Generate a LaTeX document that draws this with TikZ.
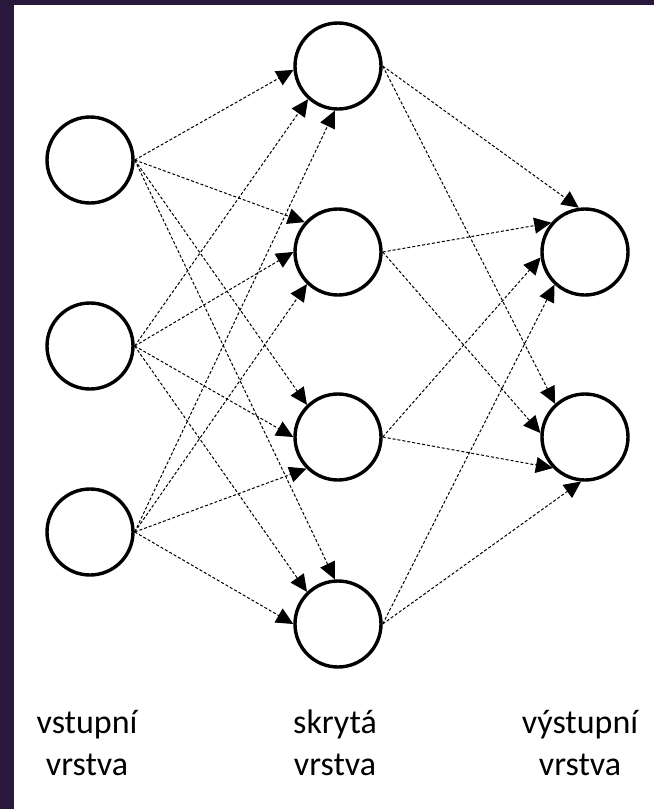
\documentclass[tikz,border=0pt]{standalone}
\usepackage{fontspec}
\setmainfont{Carlito}
\usetikzlibrary{arrows.meta}
\definecolor{framecol}{RGB}{42,24,60}
\begin{document}
\begin{tikzpicture}[x=1pt,y=-1pt,
  neuron/.style={circle,draw=black,line width=3.4pt,minimum size=86pt,inner sep=0pt,fill=white},
  conn/.style={line width=1pt,dash pattern=on 3pt off 2pt,-{Triangle[length=17pt,width=16pt]}},
  lbl/.style={font=\fontsize{34}{42}\selectfont,anchor=base,inner sep=0pt}]
\useasboundingbox (0,0) rectangle (654,809);
\fill[white] (0,0) rectangle (654,809);
\fill[framecol] (0,0) rectangle (14,809);
\fill[framecol] (0,0) rectangle (654,5);
% input layer
\node[neuron] (i1) at (90,160) {};
\node[neuron] (i2) at (90,346) {};
\node[neuron] (i3) at (90,532) {};
% hidden layer
\node[neuron] (h1) at (338,66) {};
\node[neuron] (h2) at (338,252) {};
\node[neuron] (h3) at (338,437) {};
\node[neuron] (h4) at (338,624) {};
% output layer
\node[neuron] (o1) at (585,252) {};
\node[neuron] (o2) at (585,437) {};
% input -> hidden
\draw[conn] (i1.east) -- (h1.185);
\draw[conn] (i2.east) -- (h1.228);
\draw[conn] (i3.east) -- (h1.266);
\draw[conn] (i1.east) -- (h2.138);
\draw[conn] (i2.east) -- (h2.180);
\draw[conn] (i3.east) -- (h2.226);
\draw[conn] (i1.east) -- (h3.134);
\draw[conn] (i2.east) -- (h3.180);
\draw[conn] (i3.east) -- (h3.225);
\draw[conn] (i1.east) -- (h4.94);
\draw[conn] (i2.east) -- (h4.134);
\draw[conn] (i3.east) -- (h4.180);
% hidden -> output
\draw[conn] (h1.east) -- (o1.98);
\draw[conn] (h2.east) -- (o1.139);
\draw[conn] (h3.east) -- (o1.187);
\draw[conn] (h4.east) -- (o1.227);
\draw[conn] (h1.east) -- (o2.132);
\draw[conn] (h2.east) -- (o2.175);
\draw[conn] (h3.east) -- (o2.224);
\draw[conn] (h4.east) -- (o2.265);
% labels
\node[lbl] (t1a) at (87,733) {vstupní};
\node[lbl] (t1b) at (87,775) {vrstva};
\node[lbl] (t2a) at (335,733) {skrytá};
\node[lbl] (t2b) at (335,775) {vrstva};
\node[lbl] (t3a) at (580,733) {výstupní};
\node[lbl] (t3b) at (580,775) {vrstva};
\end{tikzpicture}
\end{document}
